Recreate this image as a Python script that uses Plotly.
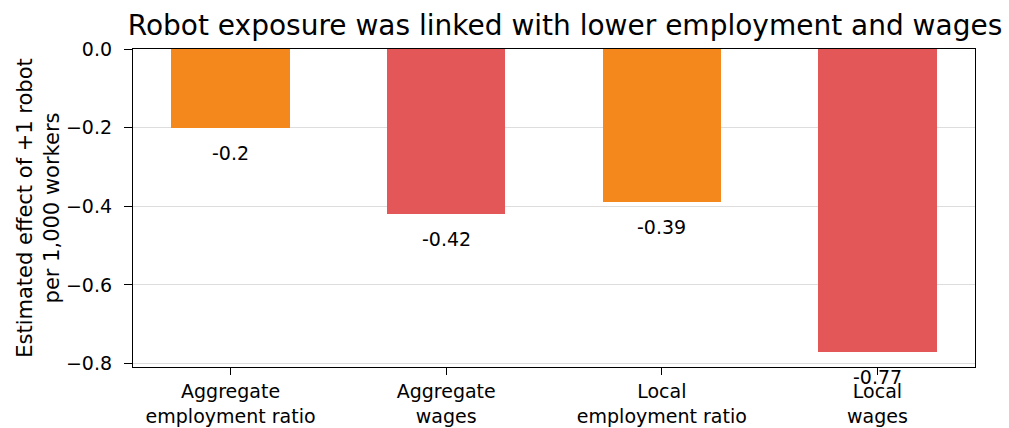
import plotly.graph_objects as go

categories = ["Aggregate<br>employment ratio", "Aggregate<br>wages",
              "Local<br>employment ratio", "Local<br>wages"]
values = [-0.20, -0.42, -0.39, -0.77]
value_labels = ["-0.2", "-0.42", "-0.39", "-0.77"]
bar_colors = ["#F5881D", "#E45758", "#F5881D", "#E45758"]
y_ticks = [0.0, -0.2, -0.4, -0.6, -0.8]
y_tick_text = ["0.0", "−0.2", "−0.4", "−0.6", "−0.8"]

FONT = "DejaVu Sans"
TICK = 19
x_idx = list(range(len(categories)))

fig = go.Figure()
fig.add_trace(go.Bar(
    x=x_idx, y=values, width=0.55,
    marker=dict(color=bar_colors, line=dict(width=0)),
    showlegend=False, hoverinfo="skip",
))

for i, (v, t) in enumerate(zip(values, value_labels)):
    fig.add_annotation(x=i, y=v, xref="x", yref="y", text=t, showarrow=False,
                       yshift=-25, font=dict(family=FONT, size=TICK, color="#000000"))

fig.update_layout(
    width=1009, height=428,
    margin=dict(l=133, r=34, t=49, b=61, autoexpand=False),
    paper_bgcolor="white", plot_bgcolor="white",
    font=dict(family=FONT, size=TICK, color="#000000"),
    title=dict(text="Robot exposure was linked with lower employment and wages",
               x=(565 - 133) / 842, xref="paper", xanchor="center",
               y=1 - 25 / 428, yref="container", yanchor="middle",
               font=dict(family=FONT, size=28, color="#000000")),
    bargap=0,
)
fig.update_xaxes(
    range=[-0.4525, 3.4525], tickmode="array", tickvals=x_idx, ticktext=categories,
    showgrid=False, zeroline=False, showline=True, linecolor="#000000", linewidth=1.3,
    mirror=True, ticks="outside", ticklen=7, tickcolor="#000000", tickwidth=1.3,
    tickfont=dict(family=FONT, size=TICK, color="#000000"), automargin=False,
)
fig.update_yaxes(
    range=[-0.8085, 0.0], tickmode="array", tickvals=y_ticks, ticktext=y_tick_text,
    showgrid=True, gridcolor="#DDDDDD", gridwidth=1, zeroline=False,
    showline=True, linecolor="#000000", linewidth=1.3, mirror=True,
    ticks="outside", ticklen=8, tickcolor="#000000", tickwidth=1.3,
    ticklabelstandoff=8, automargin=False,
    tickfont=dict(family=FONT, size=TICK, color="#000000"),
    title=dict(text="Estimated effect of +1 robot<br>per 1,000 workers",
               font=dict(family=FONT, size=21, color="#000000"), standoff=0),
    layer="above traces",
)

fig.write_html("out.html")
